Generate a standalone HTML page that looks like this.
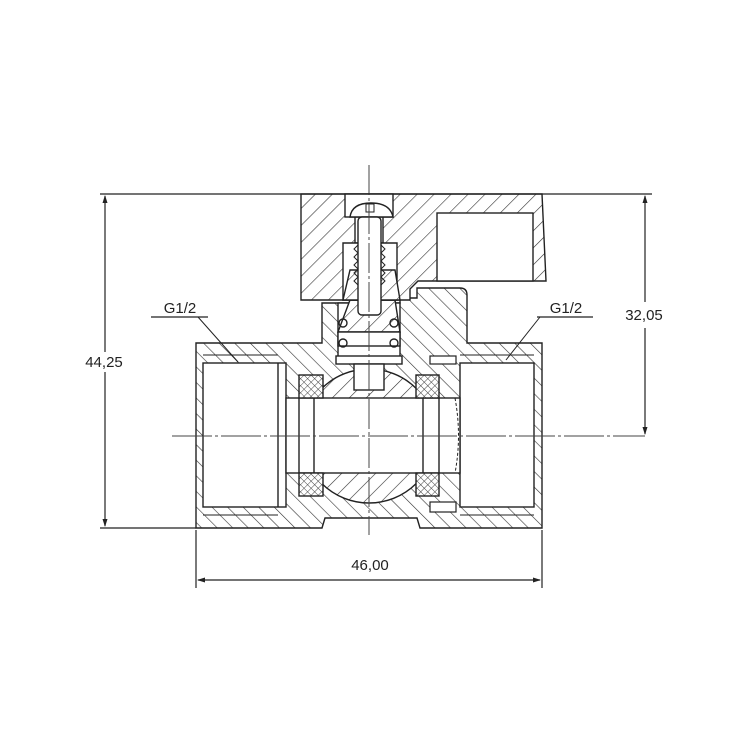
<!DOCTYPE html>
<html><head><meta charset="utf-8"><style>html,body{margin:0;padding:0;background:#fff}svg{display:block}</style></head><body>
<svg width="750" height="750" viewBox="0 0 750 750" xmlns="http://www.w3.org/2000/svg">
<defs>
<pattern id="hb" patternUnits="userSpaceOnUse" width="11" height="11" patternTransform="rotate(-45)"><rect width="11" height="11" fill="#fff"/><line x1="0" y1="0" x2="0" y2="11" stroke="#333" stroke-width="1.2"/></pattern>
<pattern id="hf" patternUnits="userSpaceOnUse" width="12" height="12" patternTransform="rotate(45)"><rect width="12" height="12" fill="#fff"/><line x1="0" y1="0" x2="0" y2="12" stroke="#333" stroke-width="1.2"/></pattern>
<pattern id="hx" patternUnits="userSpaceOnUse" width="5" height="5" patternTransform="rotate(45)"><rect width="5" height="5" fill="#fff"/><line x1="0" y1="0" x2="0" y2="5" stroke="#333" stroke-width="0.9"/><line x1="0" y1="0" x2="5" y2="0" stroke="#333" stroke-width="0.9"/></pattern>
<clipPath id="ballclip"><rect x="299" y="363" width="140" height="144"/></clipPath>
<marker id="ar" markerWidth="8" markerHeight="8" refX="7" refY="4" orient="auto-start-reverse" markerUnits="userSpaceOnUse"><path d="M0,1.5 L8,4 L0,6.5 Z" fill="#222"/></marker>
</defs>
<g stroke="#222" stroke-width="1.4" fill="none">
<!-- body -->
<path d="M196,343 H322 V303 H400 V298 H417 V288 H460 Q467,288 467,295 V343 H542 V528 H420 L417,518 H325 L322,528 H196 Z" fill="url(#hb)"/>
<!-- ports -->
<rect x="203" y="363" width="83" height="144" fill="#fff"/>
<line x1="278" y1="363" x2="278" y2="507"/>
<line x1="203" y1="355" x2="278" y2="355" stroke-width="1"/>
<line x1="203" y1="515" x2="278" y2="515" stroke-width="1"/>
<rect x="460" y="363" width="74" height="144" fill="#fff"/>
<line x1="460" y1="355" x2="534" y2="355" stroke-width="1"/>
<line x1="460" y1="515" x2="534" y2="515" stroke-width="1"/>
<!-- ball -->
<circle cx="369" cy="436" r="67" fill="url(#hf)" clip-path="url(#ballclip)"/>
<rect x="286" y="398" width="174" height="75" fill="#fff"/>
<!-- seats -->
<rect x="299" y="375" width="24" height="23" fill="url(#hx)"/>
<rect x="299" y="473" width="24" height="23" fill="url(#hx)"/>
<rect x="416" y="375" width="23" height="23" fill="url(#hx)"/>
<rect x="416" y="473" width="23" height="23" fill="url(#hx)"/>
<line x1="299" y1="398" x2="299" y2="473"/><line x1="314" y1="398" x2="314" y2="473"/>
<line x1="423" y1="398" x2="423" y2="473"/><line x1="439" y1="398" x2="439" y2="473"/>
<path d="M455,398 Q462,436 455,473" stroke-dasharray="3,2" stroke-width="1"/>
<rect x="430" y="502" width="26" height="10" fill="#fff" stroke-width="1.2"/>
<rect x="430" y="356" width="26" height="8" fill="#fff" stroke-width="1.2"/>
<!-- stem channel -->
<rect x="338" y="303" width="62" height="60" fill="#fff"/>
<rect x="336" y="356" width="66" height="8" fill="#fff"/>
<rect x="354" y="364" width="30" height="26" fill="#fff"/>
<path d="M350,300 L395,300 L400,332 L338,332 Z" fill="url(#hf)"/>
<rect x="338" y="332" width="62" height="14" fill="#fff"/>
<circle cx="343" cy="323" r="4"/><circle cx="394" cy="323" r="4"/>
<circle cx="343" cy="343" r="4"/><circle cx="394" cy="343" r="4"/>
<!-- handle -->
<path d="M301,194 H542 L546,281 H418 L410,289 V300 H301 Z" fill="url(#hf)"/>
<rect x="437" y="213" width="96" height="68" fill="#fff"/>
<rect x="345" y="194" width="48" height="23" fill="#fff"/>
<rect x="355" y="217" width="28" height="26" fill="#fff"/>
<path d="M343,243 H397 V300 H343 Z" fill="#fff"/>
<path d="M350,270 L395,270 L400,300 L343,300 Z" fill="url(#hf)"/>
<!-- screw -->
<path d="M350,217 Q352,203 371,203 Q390,203 393,217 Z" fill="#fff"/>
<rect x="358" y="217" width="23" height="98" rx="4" fill="#fff"/>
<path d="M358,245 l-4,4 l4,4 l-4,4 l4,4 l-4,4 l4,4 l-4,4 l4,4 l-4,4 l4,4 M381,245 l4,4 l-4,4 l4,4 l-4,4 l4,4 l-4,4 l4,4 l-4,4 l4,4 l-4,4" stroke-width="1"/>
<rect x="366" y="204" width="8" height="8" stroke-width="1"/>
</g>
<!-- centerlines -->
<g stroke="#444" stroke-width="1">
<line x1="369" y1="165" x2="369" y2="535" stroke-dasharray="30,3,3,3"/>
<line x1="172" y1="436" x2="645" y2="436" stroke-dasharray="40,3,3,3"/>
</g>
<!-- dimensions -->
<g stroke="#222" stroke-width="1.2" fill="none">
<line x1="100" y1="194" x2="652" y2="194"/>
<line x1="100" y1="528" x2="196" y2="528"/>
<line x1="105" y1="196" x2="105" y2="352" marker-start="url(#ar)"/>
<line x1="105" y1="372" x2="105" y2="526" marker-end="url(#ar)"/>
<line x1="645" y1="196" x2="645" y2="302" marker-start="url(#ar)"/>
<line x1="645" y1="328" x2="645" y2="434" marker-end="url(#ar)"/>
<line x1="196" y1="530" x2="196" y2="588"/>
<line x1="542" y1="530" x2="542" y2="588"/>
<line x1="198" y1="580" x2="540" y2="580" marker-start="url(#ar)" marker-end="url(#ar)"/>
<polyline points="151,317 208,317"/><line x1="198" y1="317" x2="238" y2="362" stroke-width="1"/>
<polyline points="537,317 593,317"/><line x1="540" y1="317" x2="506" y2="360" stroke-width="1"/>
</g>
<g font-family="Liberation Sans, sans-serif" font-size="15" fill="#222" text-anchor="middle">
<text x="104" y="367">44,25</text>
<text x="644" y="320">32,05</text>
<text x="370" y="570">46,00</text>
<text x="180" y="313">G1/2</text>
<text x="566" y="313">G1/2</text>
</g>
</svg>
</body></html>
